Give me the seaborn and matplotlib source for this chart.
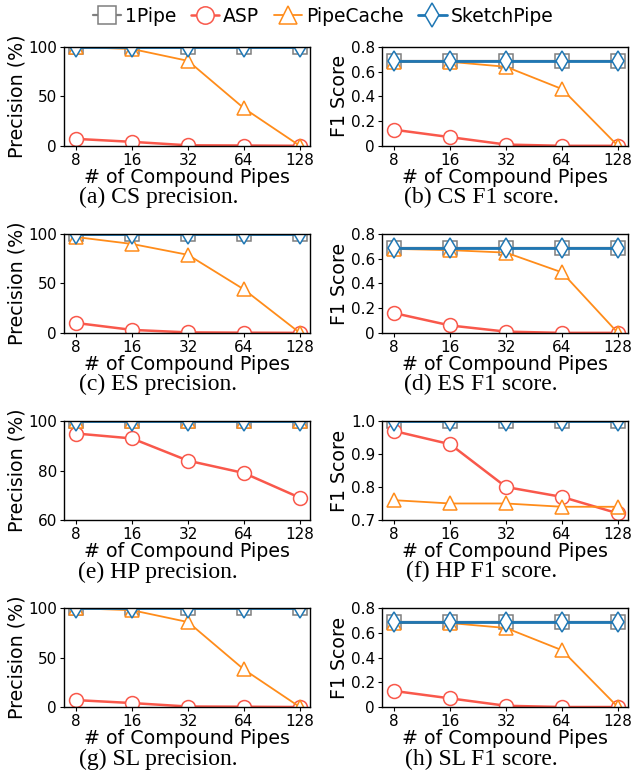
import matplotlib
matplotlib.use('Agg')
import matplotlib.pyplot as plt
import seaborn as sns
import pandas as pd
import numpy as np
from matplotlib.ticker import FuncFormatter

# x axis: number of compound pipes
PIPES = [8, 16, 32, 64, 128]
METHODS = ['1Pipe', 'ASP', 'PipeCache', 'SketchPipe']

# (a) CS precision (%)
cs_prec = {'1Pipe': [100, 100, 100, 100, 100],
           'ASP': [7, 4, 0.5, 0.3, 0],
           'PipeCache': [100, 98, 86, 38, 0],
           'SketchPipe': [100, 100, 100, 100, 100]}
# (b) CS F1 score
cs_f1 = {'1Pipe': [0.69, 0.69, 0.69, 0.69, 0.69],
         'ASP': [0.13, 0.07, 0.01, 0.0, 0.0],
         'PipeCache': [0.68, 0.68, 0.64, 0.46, 0.0],
         'SketchPipe': [0.69, 0.69, 0.69, 0.69, 0.69]}
# (c) ES precision (%)
es_prec = {'1Pipe': [100, 100, 100, 100, 100],
           'ASP': [10, 3, 0.5, 0.2, 0],
           'PipeCache': [97, 90, 79, 44, 0],
           'SketchPipe': [100, 100, 100, 100, 100]}
# (d) ES F1 score
es_f1 = {'1Pipe': [0.69, 0.69, 0.69, 0.69, 0.69],
         'ASP': [0.16, 0.06, 0.01, 0.0, 0.0],
         'PipeCache': [0.68, 0.67, 0.65, 0.49, 0.0],
         'SketchPipe': [0.69, 0.69, 0.69, 0.69, 0.69]}
# (e) HP precision (%)
hp_prec = {'1Pipe': [100, 100, 100, 100, 100],
           'ASP': [95, 93, 84, 79, 69],
           'PipeCache': [100, 100, 100, 100, 100],
           'SketchPipe': [100, 100, 100, 100, 100]}
# (f) HP F1 score
hp_f1 = {'1Pipe': [1.0, 1.0, 1.0, 1.0, 1.0],
         'ASP': [0.97, 0.93, 0.80, 0.77, 0.72],
         'PipeCache': [0.76, 0.75, 0.75, 0.74, 0.74],
         'SketchPipe': [1.0, 1.0, 1.0, 1.0, 1.0]}
# (g) SL precision (%)
sl_prec = {'1Pipe': [100, 100, 100, 100, 100],
           'ASP': [7, 4, 0.5, 0.3, 0],
           'PipeCache': [100, 98, 86, 38, 0],
           'SketchPipe': [100, 100, 100, 100, 100]}
# (h) SL F1 score
sl_f1 = {'1Pipe': [0.69, 0.69, 0.69, 0.69, 0.69],
         'ASP': [0.13, 0.07, 0.01, 0.0, 0.0],
         'PipeCache': [0.68, 0.68, 0.64, 0.46, 0.0],
         'SketchPipe': [0.69, 0.69, 0.69, 0.69, 0.69]}

CAPTIONS = ['(a) CS precision.', '(b) CS F1 score.',
            '(c) ES precision.', '(d) ES F1 score.',
            '(e) HP precision.', '(f) HP F1 score.',
            '(g) SL precision.', '(h) SL F1 score.']

# color, marker, line width
STYLES = {'1Pipe': ('#7f7f7f', 's', 1.6),
          'ASP': ('#f9584b', 'o', 1.8),
          'PipeCache': ('#ff8c1a', '^', 1.3),
          'SketchPipe': ('#1f77b4', 'd', 2.0)}

sns.set_style('ticks')
plt.rcParams['font.family'] = ['DejaVu Sans']
plt.rcParams['axes.linewidth'] = 1.0
for key in ['text.color', 'axes.labelcolor', 'xtick.color', 'ytick.color',
            'axes.edgecolor']:
    plt.rcParams[key] = 'black'


def f1_fmt(v, pos):
    return '0' if abs(v) < 1e-9 else f'{v:.1f}'


def draw_panel(ax, data, is_prec, ylim, yticks):
    for m in METHODS:
        color, marker, lw = STYLES[m]
        df = pd.DataFrame({'pipes': PIPES, 'val': data[m]})
        sns.lineplot(data=df, x='pipes', y='val', ax=ax, color=color,
                     marker=marker, markersize=10, linewidth=lw,
                     markerfacecolor='white', markeredgecolor=color,
                     markeredgewidth=1.1, errorbar=None, label=m,
                     legend=False, clip_on=True)
    ax.set_xscale('log', base=2)
    ax.set_xlim(8 * 2 ** -0.22, 128 * 2 ** 0.18)
    ax.set_xticks(PIPES)
    ax.set_xticklabels([str(p) for p in PIPES])
    ax.minorticks_off()
    ax.set_ylim(*ylim)
    ax.set_yticks(yticks)
    if not is_prec:
        ax.yaxis.set_major_formatter(FuncFormatter(f1_fmt))
    ax.set_xlabel('# of Compound Pipes', fontsize=13.7, labelpad=0)
    ax.set_ylabel('Precision (%)' if is_prec else 'F1 Score', fontsize=13.7,
                  labelpad=1)
    ax.tick_params(labelsize=11, length=3, width=0.8, pad=2)
    for s in ax.spines.values():
        s.set_visible(True)
        s.set_color('black')


fig, axes = plt.subplots(4, 2, figsize=(6.33, 7.76), dpi=100)
fig.subplots_adjust(left=0.101, right=0.992, top=0.9394, bottom=0.0889,
                    wspace=0.293, hspace=0.894)

panels = [
    (cs_prec, True, (0, 100), [0, 50, 100]),
    (cs_f1, False, (0, 0.8), [0, 0.2, 0.4, 0.6, 0.8]),
    (es_prec, True, (0, 100), [0, 50, 100]),
    (es_f1, False, (0, 0.8), [0, 0.2, 0.4, 0.6, 0.8]),
    (hp_prec, True, (60, 100), [60, 80, 100]),
    (hp_f1, False, (0.7, 1.0), [0.7, 0.8, 0.9, 1.0]),
    (sl_prec, True, (0, 100), [0, 50, 100]),
    (sl_f1, False, (0, 0.8), [0, 0.2, 0.4, 0.6, 0.8]),
]

for i, (ax, (data, is_prec, ylim, yticks)) in enumerate(zip(axes.flat, panels)):
    draw_panel(ax, data, is_prec, ylim, yticks)
    pos = ax.get_position()
    cx = 0.25 if i % 2 == 0 else 0.76
    fig.text(cx, pos.y0 - 52 / 776, CAPTIONS[i], ha='center', va='center',
             fontsize=17, family=['Liberation Serif', 'DejaVu Serif'])

handles = axes[0, 0].get_lines()[:4]
fig.legend(handles, METHODS, loc='center', bbox_to_anchor=(0.51, 1 - 16 / 776),
           ncol=4, frameon=False, fontsize=13.5, handlelength=1.5,
           handletextpad=0.2, columnspacing=0.8, markerscale=1.25,
           borderaxespad=0)

plt.savefig('out.png', dpi=100)
plt.close()
